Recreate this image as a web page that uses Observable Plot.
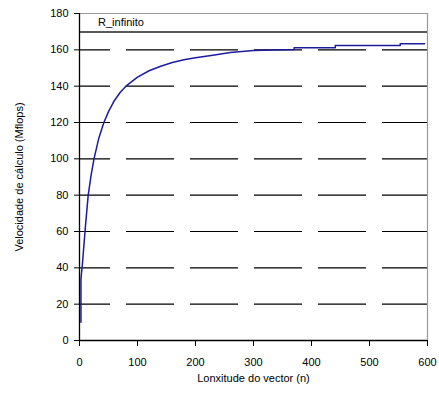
<!DOCTYPE html>
<html>
<head>
<meta charset="utf-8">
<script src="https://cdn.jsdelivr.net/npm/d3@7"></script>
<script src="https://cdn.jsdelivr.net/npm/@observablehq/plot@0.6"></script>
<style>
  html, body { margin: 0; padding: 0; background: #fff; }
  svg { font-family: "Liberation Sans", Arial, sans-serif; }
</style>
</head>
<body>
<div id="chart"></div>
<script>
// Measured speed vs vector length
const lengths = [2.5, 2.5, 5, 10, 15, 20, 25, 33, 42, 50, 60, 70, 80, 90, 100, 120, 140, 160, 180, 200, 230, 260, 300, 370, 370, 441, 441, 553, 553, 595];
const speeds  = [10, 34, 42, 62, 80, 91, 100, 111, 120, 126, 132, 136.5, 140, 142.5, 145, 148.5, 151, 153, 154.5, 155.7, 157, 158.5, 159.6, 160.2, 161.2, 161.2, 162.4, 162.4, 163.3, 163.3];
const rInfinito = 169.8;
const rLabel = "R_infinito";
const yTicks = [0, 20, 40, 60, 80, 100, 120, 140, 160, 180];
const xTicks = [0, 100, 200, 300, 400, 500, 600];
const gridValues = [20, 40, 60, 80, 100, 120, 140, 160];

const data = lengths.map((n, i) => ({n, v: speeds[i]}));
const labelData = [{n: 32, v: 175, t: rLabel}];

const chart = Plot.plot({
  width: 439,
  height: 405,
  marginLeft: 79,
  marginRight: 12,
  marginTop: 13,
  marginBottom: 65,
  style: {fontFamily: "Liberation Sans, Arial, sans-serif", fontSize: "11px", color: "#000", background: "#fff"},
  x: {domain: [0, 600], ticks: xTicks, tickSize: 6, tickPadding: 12, label: "Lonxitude do vector (n)", labelAnchor: "center", labelOffset: 41, labelArrow: "none"},
  y: {domain: [0, 180], ticks: yTicks, tickSize: 5, tickPadding: 6, label: "Velocidade de cálculo (Mflops)", labelAnchor: "center", labelOffset: 64, labelArrow: "none"},
  marks: [
    Plot.ruleY(gridValues, {stroke: "#000", strokeWidth: 1.2, strokeDasharray: "48,16", strokeDashoffset: 17}),
    Plot.ruleY([180], {stroke: "#999", strokeWidth: 1}),
    Plot.ruleX([600], {stroke: "#999", strokeWidth: 1.2}),
    Plot.ruleY([rInfinito], {stroke: "#222", strokeWidth: 1.4}),
    Plot.text(labelData, {x: "n", y: "v", text: "t", textAnchor: "start", fill: "#000", fontSize: 11}),
    Plot.line(data, {x: "n", y: "v", stroke: "#1c1c9c", strokeWidth: 1.5}),
    Plot.ruleX([0], {stroke: "#000", strokeWidth: 1.3}),
    Plot.ruleY([0], {stroke: "#000", strokeWidth: 1.3})
  ]
});
document.getElementById("chart").appendChild(chart);
</script>
</body>
</html>
